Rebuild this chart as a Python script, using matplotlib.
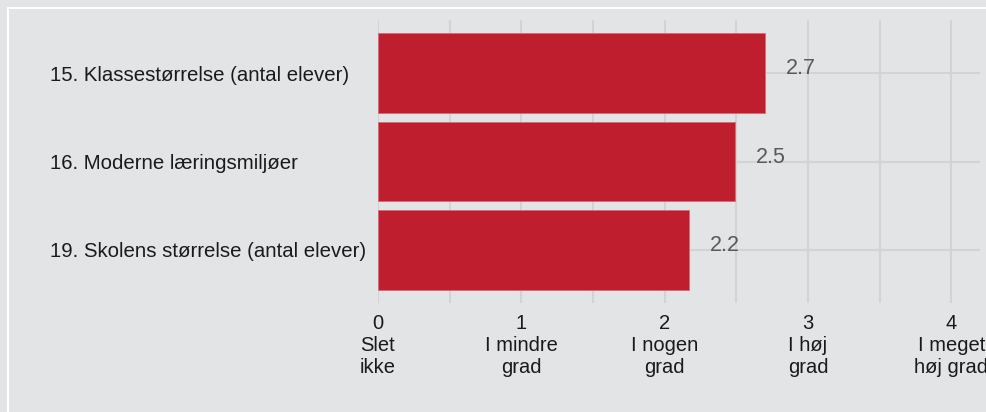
import matplotlib.pyplot as plt
from matplotlib.patches import Rectangle
import numpy as np

# data
categories = ['15. Klassestørrelse (antal elever)',
              '16. Moderne læringsmiljøer',
              '19. Skolens størrelse (antal elever)']
values = [2.70, 2.49, 2.17]
value_labels = ['2.7', '2.5', '2.2']
scale_ticks = [0, 1, 2, 3, 4]
scale_labels = ['0\nSlet\nikke', '1\nI mindre\ngrad', '2\nI nogen\ngrad',
                '3\nI høj\ngrad', '4\nI meget\nhøj grad']

bg = '#e3e4e6'
bar_col = '#be1e2d'
grid_col = '#d3d3d5'

plt.rcParams['font.family'] = ['Liberation Sans', 'DejaVu Sans']

W, H = 987, 412
fig = plt.figure(figsize=(W / 100, H / 100), dpi=100, facecolor=bg)
ax = fig.add_axes([378 / W, 1 - 303 / H, (980 - 378) / W, (303 - 20) / H])
ax.set_facecolor(bg)

y = np.arange(len(categories))
ax.barh(y, values, height=0.9, color=bar_col, edgecolor='#d46a75',
        linewidth=0.6, zorder=3)

for yi, v, lab in zip(y, values, value_labels):
    ax.annotate(lab, (v, yi), xytext=(15, 3), textcoords='offset points',
                ha='left', va='center', fontsize=15.5, color='#595959',
                zorder=4)

ax.set_xlim(0, 4.2)
ax.set_ylim(2.6, -0.6)

ax.set_xticks(np.arange(0, 4.01, 0.5), minor=True)
ax.set_xticks(scale_ticks)
ax.set_xticklabels(scale_labels, linespacing=1.2, fontsize=14.5,
                   color='#1a1a1a')
ax.set_yticks(y)
ax.set_yticklabels(categories, ha='left', fontsize=14.7, color='#1a1a1a')

ax.tick_params(axis='x', which='both', length=0, pad=8)
ax.tick_params(axis='y', length=0, pad=(378 - 50) * 0.72)

ax.grid(True, axis='x', which='both', color=grid_col, linewidth=1.5, zorder=0)
ax.grid(True, axis='y', color=grid_col, linewidth=1.5, zorder=0)
ax.set_axisbelow(True)
for s in ax.spines.values():
    s.set_visible(False)

# white panel border
fig.add_artist(Rectangle((8 / W, -0.5), 1.5, 1 - 8 / H + 0.5,
                         transform=fig.transFigure, fill=False,
                         edgecolor='white', linewidth=1.5))

fig.savefig('out.png', dpi=100, facecolor=bg)
